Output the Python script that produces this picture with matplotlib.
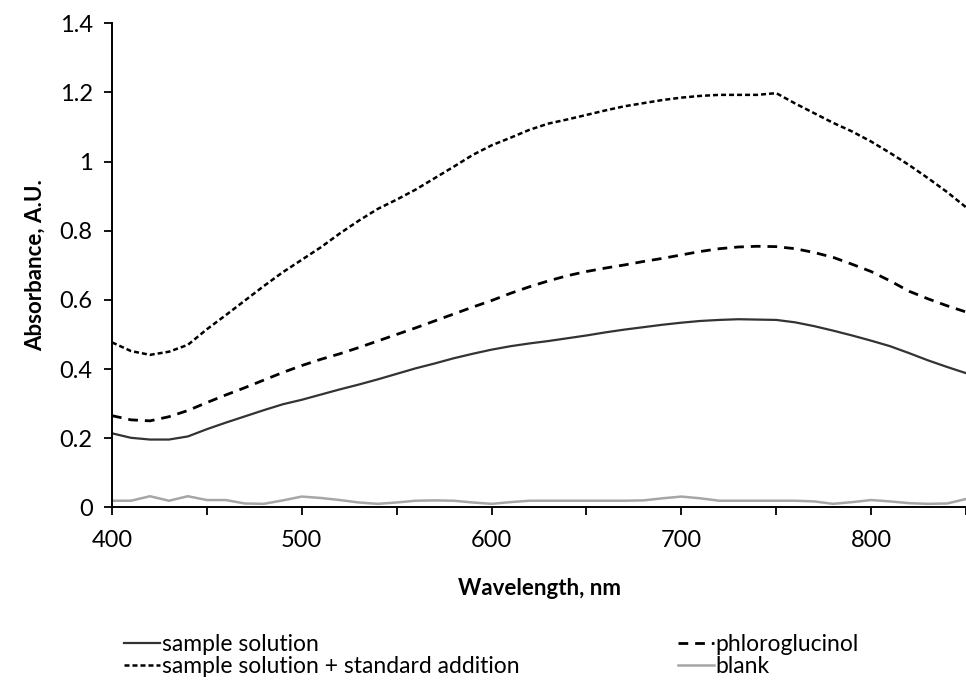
import numpy as np
import matplotlib
matplotlib.use("Agg")
import matplotlib.pyplot as plt
from matplotlib.ticker import MultipleLocator, FuncFormatter

plt.rcParams['font.family'] = ['Lato', 'DejaVu Sans']

wavelength = list(range(400, 851, 10))

sample = [0.214, 0.201, 0.196, 0.196, 0.205, 0.226, 0.245, 0.263, 0.281, 0.298,
          0.311, 0.326, 0.341, 0.355, 0.370, 0.386, 0.402, 0.416, 0.431, 0.444,
          0.456, 0.466, 0.474, 0.481, 0.489, 0.497, 0.506, 0.514, 0.521, 0.528,
          0.534, 0.539, 0.542, 0.544, 0.543, 0.542, 0.535, 0.524, 0.511, 0.497,
          0.482, 0.466, 0.446, 0.425, 0.406, 0.388]

phloroglucinol = [0.265, 0.253, 0.250, 0.262, 0.280, 0.303, 0.325, 0.346, 0.368, 0.390,
                  0.410, 0.428, 0.444, 0.462, 0.481, 0.500, 0.519, 0.539, 0.559, 0.579,
                  0.598, 0.619, 0.638, 0.655, 0.670, 0.682, 0.692, 0.701, 0.711, 0.720,
                  0.730, 0.740, 0.748, 0.753, 0.755, 0.754, 0.748, 0.737, 0.723, 0.703,
                  0.682, 0.655, 0.625, 0.603, 0.583, 0.565]

std_addition = [0.477, 0.452, 0.441, 0.450, 0.470, 0.515, 0.556, 0.598, 0.640, 0.680,
                0.716, 0.752, 0.792, 0.829, 0.863, 0.890, 0.919, 0.952, 0.985, 1.019,
                1.047, 1.069, 1.092, 1.110, 1.122, 1.135, 1.148, 1.160, 1.169, 1.178,
                1.185, 1.190, 1.193, 1.193, 1.193, 1.198, 1.168, 1.140, 1.112, 1.087,
                1.058, 1.025, 0.990, 0.952, 0.912, 0.868]

blank = [0.019, 0.019, 0.032, 0.019, 0.032, 0.021, 0.021, 0.011, 0.010, 0.020,
         0.031, 0.027, 0.021, 0.014, 0.010, 0.014, 0.019, 0.020, 0.019, 0.014,
         0.010, 0.015, 0.019, 0.019, 0.019, 0.019, 0.019, 0.019, 0.020, 0.026,
         0.031, 0.026, 0.019, 0.019, 0.019, 0.019, 0.019, 0.017, 0.010, 0.015,
         0.021, 0.017, 0.012, 0.010, 0.011, 0.024]

fig = plt.figure(figsize=(9.66, 6.8), dpi=100)
ax = fig.add_axes([112 / 966, 1 - 507.3 / 680, 854 / 966, 484 / 680])

l_sample, = ax.plot(wavelength, sample, color='#333333', lw=1.6)
l_phloro, = ax.plot(wavelength, phloroglucinol, color='black', lw=2.0,
                    linestyle=(0, (3.5, 2.5)))
l_std, = ax.plot(wavelength, std_addition, color='black', lw=1.8,
                 linestyle=(0, (2.0, 1.2)))
l_blank, = ax.plot(wavelength, blank, color='#a6a6a6', lw=1.8)

ax.set_xlim(400, 850)
ax.set_ylim(0, 1.4)
ax.xaxis.set_major_locator(MultipleLocator(100))
ax.xaxis.set_minor_locator(MultipleLocator(50))
ax.yaxis.set_major_locator(MultipleLocator(0.2))
ax.yaxis.set_major_formatter(FuncFormatter(lambda v, p: '{:g}'.format(round(v, 1))))

for s in ['top', 'right']:
    ax.spines[s].set_visible(False)
for s in ['left', 'bottom']:
    ax.spines[s].set_linewidth(1.4)
ax.tick_params(which='both', direction='out', length=6, width=1.3,
               labelsize=17, pad=8)
ax.tick_params(axis='x', pad=10)

ax.set_xlabel('Wavelength, nm', fontsize=16, fontweight='bold', labelpad=20)
ax.set_ylabel('Absorbance, A.U.', fontsize=16, fontweight='bold', labelpad=10)

leg_kw = dict(frameon=False, fontsize=16.5, handlelength=1.55, handletextpad=0.1,
              labelspacing=0.05, borderaxespad=0, borderpad=0)
leg1 = fig.legend([l_sample, l_std], ['sample solution', 'sample solution + standard addition'],
                  loc='upper left', bbox_to_anchor=(124 / 966, 1 - 634 / 680), **leg_kw)
leg2 = fig.legend([l_phloro, l_blank], ['phloroglucinol', 'blank'],
                  loc='upper left', bbox_to_anchor=(678 / 966, 1 - 634 / 680), **leg_kw)

plt.savefig('out.png', dpi=100)
